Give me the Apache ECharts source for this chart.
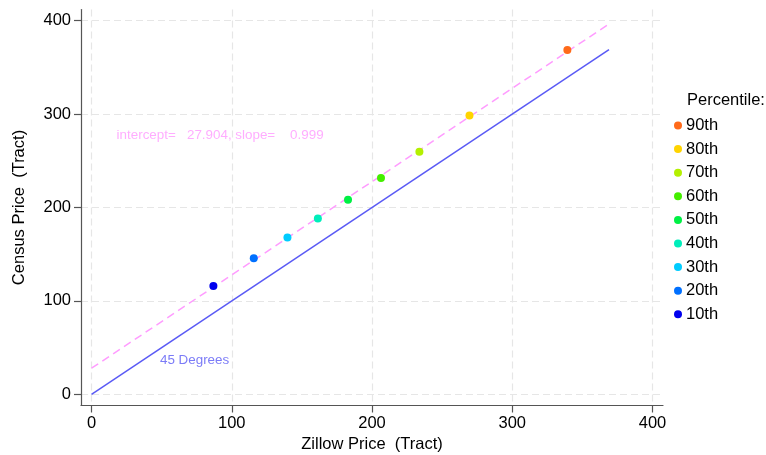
<!DOCTYPE html>
<html>
<head>
<meta charset="utf-8">
<script src="https://cdn.jsdelivr.net/npm/echarts@6/dist/echarts.min.js"></script>
<style>
  html, body { margin: 0; padding: 0; background: #fff; }
  #chart { width: 766px; height: 455px; }
</style>
</head>
<body>
<div id="chart"></div>
<script>
// percentile points: Zillow price vs Census price (tract)
const percentiles = ['10th', '20th', '30th', '40th', '50th', '60th', '70th', '80th', '90th'];
const zillowPrice = [86.9, 115.7, 139.7, 161.4, 182.9, 206.4, 233.8, 269.5, 339.3];
const censusPrice = [116, 145.6, 168, 188.3, 208.3, 231.6, 259.8, 298.5, 368.6];
const pointColors = ['#0000ee', '#0070ff', '#00ccff', '#00eebb', '#00f044', '#44ee00', '#b4f000', '#ffd400', '#ff6a1a'];
const axisTicks = [0, 100, 200, 300, 400];
const degreeLine = [[0, 0], [369, 369]];
const fitLine = [[0, 27.9], [368, 395.5]];
const fitText = 'intercept=   27.904, slope=    0.999';
const fitTextAt = [17.9, 277];
const degreeText = '45 Degrees';
const degreeTextAt = [48.8, 36.3];

const font = '"Liberation Sans", Arial, sans-serif';

const chart = echarts.init(document.getElementById('chart'));

const series = [
    {
        type: 'line',
        data: degreeLine,
        showSymbol: false,
        silent: true,
        z: 2,
        lineStyle: { color: '#5a5af5', width: 1.5 }
    },
    {
        type: 'line',
        data: fitLine,
        showSymbol: false,
        silent: true,
        z: 2,
        lineStyle: { color: '#ff9cff', width: 1.5, type: [8, 5] }
    },
    {
        type: 'scatter',
        data: [fitTextAt],
        symbolSize: 0,
        silent: true,
        label: {
            show: true, position: 'right', distance: 0,
            formatter: fitText, color: '#ff99ff', fontSize: 13.4, fontFamily: font
        }
    },
    {
        type: 'scatter',
        data: [degreeTextAt],
        symbolSize: 0,
        silent: true,
        label: {
            show: true, position: 'right', distance: 0,
            formatter: degreeText, color: '#5a5af5', fontSize: 13.4, fontFamily: font
        }
    }
];

percentiles.forEach(function (p, i) {
    series.push({
        name: p,
        type: 'scatter',
        data: [[zillowPrice[i], censusPrice[i]]],
        symbolSize: 8,
        z: 5,
        itemStyle: { color: pointColors[i], opacity: 1 }
    });
});

const axisCommon = {
    type: 'value',
    nameLocation: 'middle',
    nameTextStyle: { color: '#000', fontSize: 16.5, fontFamily: font },
    axisLine: { show: true, onZero: false, lineStyle: { color: '#555', width: 1.2 } },
    axisTick: { show: true, customValues: axisTicks, length: 7, lineStyle: { color: '#555', width: 1.2 } },
    axisLabel: { customValues: axisTicks, color: '#000', fontSize: 16.5, fontFamily: font },
    splitLine: { show: true, lineStyle: { color: '#e6e6e6', width: 1.2, type: [7, 4] } }
};

const option = {
    animation: false,
    backgroundColor: '#fff',
    title: {
        text: 'Percentile:',
        left: 687,
        top: 92,
        padding: 0,
        textStyle: { color: '#000', fontSize: 16.5, fontWeight: 'normal', fontFamily: font }
    },
    legend: {
        orient: 'vertical',
        left: 674,
        top: 117,
        padding: 0,
        itemGap: 6.6,
        itemWidth: 8,
        itemHeight: 8,
        icon: 'circle',
        data: percentiles.slice().reverse(),
        textStyle: { color: '#000', fontSize: 16.5, lineHeight: 16, fontFamily: font, padding: [0, 0, 0, -1] }
    },
    grid: { left: 81, right: 103, top: 9.5, bottom: 49.5, containLabel: false, outerBoundsMode: 'none' },
    xAxis: Object.assign({}, axisCommon, {
        name: 'Zillow Price  (Tract)',
        nameGap: 29,
        min: -7.5,
        max: 407.5,
        axisLabel: Object.assign({}, axisCommon.axisLabel, { margin: 9 })
    }),
    yAxis: Object.assign({}, axisCommon, {
        name: 'Census Price  (Tract)',
        nameGap: 53,
        min: -12,
        max: 412,
        axisLabel: Object.assign({}, axisCommon.axisLabel, { margin: 10 })
    }),
    series: series
};

chart.setOption(option);
</script>
</body>
</html>
